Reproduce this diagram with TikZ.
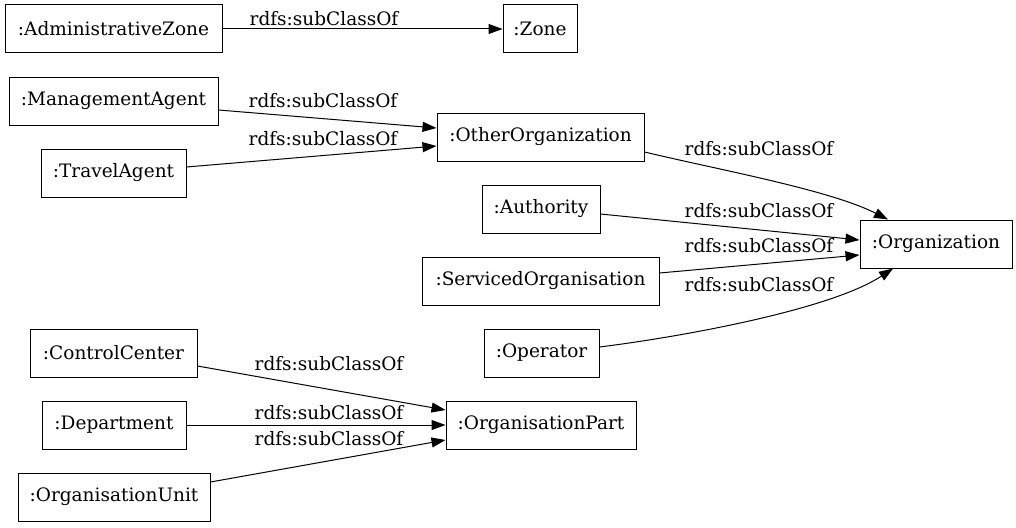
\documentclass[tikz,border=0pt]{standalone}
\usepackage{fontspec}
\setmainfont{DejaVu Serif}
\usetikzlibrary{arrows.meta}
\tikzset{every node/.style={align=center,inner sep=0pt,font=\fontsize{18.5}{22}\selectfont}}
\tikzset{every path/.style={line width=1pt,>={Triangle[length=14pt,width=10pt]}}}
\tikzset{c/.style={rectangle,draw,minimum height=48pt}}
\tikzset{e/.style={->}}

\begin{document}
\begin{tikzpicture}[x=1pt,y=-1pt]
\useasboundingbox (0,0) rectangle (1016,527);
\node[c,minimum width=217pt](adminzone) at (113.5,29) {:AdministrativeZone};
\node[c,minimum width=74pt](zone) at (540,29) {:Zone};
\node[c,minimum width=209pt](mgmtagent) at (113.5,101) {:ManagementAgent};
\node[c,minimum width=145pt](travelagent) at (113.5,173) {:TravelAgent};
\node[c,minimum width=207pt](otherorg) at (540.5,137) {:OtherOrganization};
\node[c,minimum width=118pt](authority) at (541,209) {:Authority};
\node[c,minimum width=237pt](servicedorg) at (540.5,281) {:ServicedOrganisation};
\node[c,minimum width=152pt](org) at (936,244) {:Organization};
\node[c,minimum width=115pt](operator) at (541.5,353) {:Operator};
\node[c,minimum width=167pt](controlcenter) at (113.5,353) {:ControlCenter};
\node[c,minimum width=144pt](department) at (114,425) {:Department};
\node[c,minimum width=190pt](orgpart) at (541,425) {:OrganisationPart};
\node[c,minimum width=192pt](orgunit) at (114,497) {:OrganisationUnit};

\node(l1) at (324,19) {rdfs:subClassOf};
\node(l2) at (323,101) {rdfs:subClassOf};
\node(l3) at (323,139) {rdfs:subClassOf};
\node(l4) at (759,149) {rdfs:subClassOf};
\node(l5) at (759,211) {rdfs:subClassOf};
\node(l6) at (759,246) {rdfs:subClassOf};
\node(l7) at (759,285) {rdfs:subClassOf};
\node(l8) at (329,364) {rdfs:subClassOf};
\node(l9) at (329,413) {rdfs:subClassOf};
\node(l10) at (329,439) {rdfs:subClassOf};

\draw[e] (adminzone) -- (zone);
\draw[e] ([yshift=-9pt]mgmtagent.east) -- ([yshift=9pt]otherorg.west);
\draw[e] ([yshift=6pt]travelagent.east) -- ([yshift=-9pt]otherorg.west);
\draw[e] ([yshift=-15pt]otherorg.east) .. controls (720,170) and (830,190) .. ([xshift=-48pt]org.north);
\draw[e] ([yshift=-5pt]authority.east) -- ([yshift=4pt]org.west);
\draw[e] ([yshift=8pt]servicedorg.east) -- ([yshift=-11pt]org.west);
\draw[e] ([yshift=6pt]operator.east) .. controls (680,337) and (830,310) .. ([xshift=-43pt]org.south);
\draw[e] ([yshift=-13pt]controlcenter.east) -- ([yshift=15pt]orgpart.west);
\draw[e] (department) -- (orgpart);
\draw[e] ([yshift=15pt]orgunit.east) -- ([yshift=-15pt]orgpart.west);

    \end{tikzpicture}
\end{document}
